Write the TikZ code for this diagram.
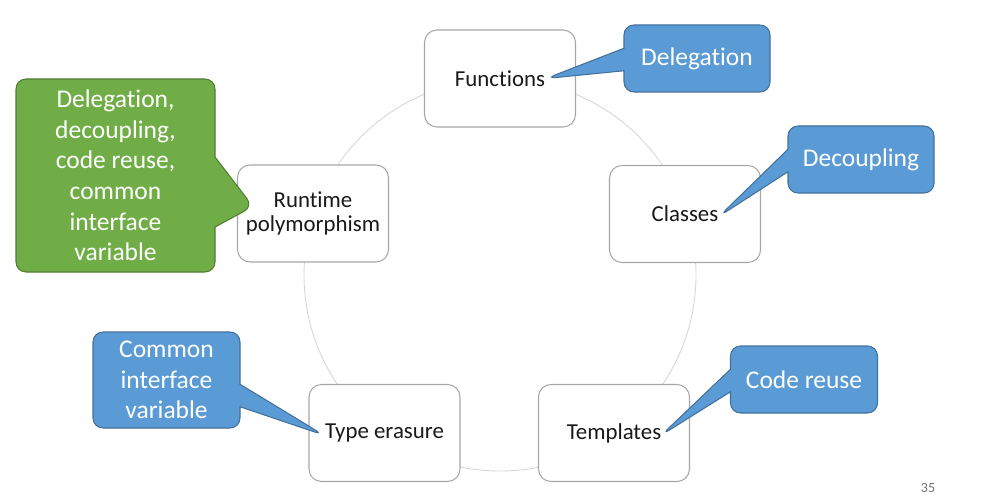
\documentclass[tikz,border=0pt]{standalone}
\usepackage{fontspec}
\setmainfont{Carlito}[Ligatures=NoCommon]
\usetikzlibrary{shapes.callouts,calc}
\definecolor{noteblue}{HTML}{5B9BD5}
\definecolor{noteblueline}{HTML}{41719C}
\definecolor{notegreen}{HTML}{70AD47}
\definecolor{notegreenline}{HTML}{507E32}
\definecolor{boxline}{HTML}{A6A6A6}
\definecolor{ringline}{HTML}{D6D6D6}

\begin{document}
\begin{tikzpicture}[
  topic/.style={draw=boxline, line width=0.6pt, fill=white, rounded corners=0.25cm, minimum width=3.02cm, minimum height=1.94cm, align=center, text=black!90, font=\fontsize{13}{14}\selectfont},
  note/.style={rectangle callout, draw=noteblueline, line width=0.6pt, fill=noteblue, rounded corners=0.2cm, inner sep=0pt, align=center, text=white, font=\fontsize{14.5}{17.4}\selectfont, callout pointer width=0.45cm}]
\useasboundingbox (0,0) rectangle (19.64,10.04);

\coordinate (ctr) at (10.0,4.54);
\draw[ringline, line width=0.5pt] (ctr) circle (3.92);

\node[topic] (FUNC) at (10.0,8.47) {Functions};
\node[topic] (CLASS) at (13.7,5.76) {Classes};
\node[topic] (TMPL) at (12.28,1.38) {Templates};
\node[topic] (TERASE) at (7.69,1.38) {Type erasure};
\node[topic] (RTPOLY) at (6.26,5.77) {Runtime\\polymorphism};

\node[note, minimum width=2.92cm, minimum height=1.34cm, callout absolute pointer={($(FUNC.center)+(0.92,0)$)}] (delegation) at (13.94,8.87) {Delegation};
\node[note, minimum width=2.92cm, minimum height=1.34cm, callout absolute pointer={($(CLASS.center)+(0.69,-0.04)$)}] (decoupling) at (17.22,6.85) {Decoupling};
\node[note, minimum width=2.94cm, minimum height=1.34cm, callout absolute pointer={($(TMPL.center)+(0.95,-0.04)$)}] (codereuse) at (16.08,2.45) {Code reuse};
\node[note, minimum width=2.94cm, minimum height=1.92cm, callout absolute pointer={($(TERASE.center)+(-1.22,-0.04)$)}] (commonif) at (3.33,2.44) {Common\\interface\\variable};
\node[note, draw=notegreenline, fill=notegreen, minimum width=3.98cm, minimum height=3.86cm, callout pointer width=1.4cm, callout absolute pointer={($(RTPOLY.center)+(-1.20,0.14)$)}] (allnotes) at (2.31,6.53) {Delegation,\\decoupling,\\code reuse,\\common\\interface\\variable};

\node[text=black!55, font=\fontsize{8}{9}\selectfont] (pagenum) at (18.56,0.28) {35};
\end{tikzpicture}
\end{document}
